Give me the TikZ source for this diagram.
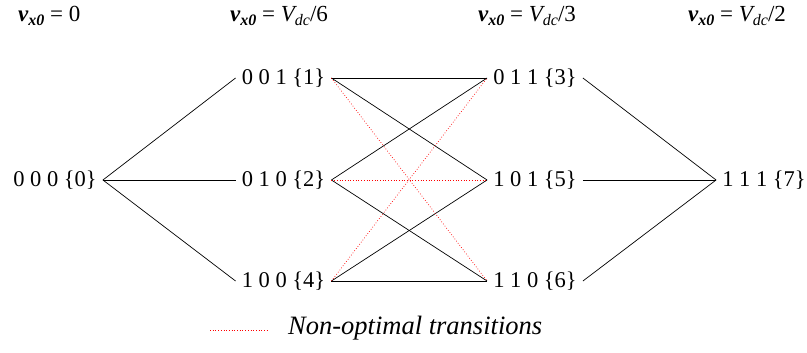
\documentclass[tikz,border=0pt]{standalone}
\usepackage{fontspec}
\setmainfont{LiberationSerif-Regular.ttf}[BoldFont=LiberationSerif-Bold.ttf, ItalicFont=LiberationSerif-Italic.ttf, BoldItalicFont=LiberationSerif-BoldItalic.ttf]
\begin{document}
\begin{tikzpicture}[x=1pt,y=-1pt,
  st/.style={font=\fontsize{22.5}{24}\selectfont, inner xsep=6pt, inner ysep=2pt},
  hd/.style={font=\fontsize{23}{26}\selectfont, anchor=base west, inner sep=0pt},
  ok/.style={draw=black, line width=0.7pt},
  bad/.style={draw=red, line width=0.7pt, dotted}]
\useasboundingbox (0,0) rectangle (807,353);
\newcommand{\vx}{{\bfseries\itshape v\raisebox{-0.35ex}{\fontsize{16}{17}\selectfont x0}}}
\newcommand{\vdc}{\textit{V\raisebox{-0.35ex}{\fontsize{16}{17}\selectfont dc}}}
% headers
\node[hd] (h0) at (18,22) {\vx\ = 0};
\node[hd] (h1) at (230,22) {\vx\ = \vdc/6};
\node[hd] (h2) at (478,22) {\vx\ = \vdc/3};
\node[hd] (h3) at (688,22) {\vx\ = \vdc/2};
% states
\node[st] (s0) at (55,180) {0 0 0 \{0\}};
\node[st] (s1) at (283.5,78) {0 0 1 \{1\}};
\node[st] (s2) at (283.5,180) {0 1 0 \{2\}};
\node[st] (s4) at (283.5,281) {1 0 0 \{4\}};
\node[st] (s3) at (535,78) {0 1 1 \{3\}};
\node[st] (s5) at (535,180) {1 0 1 \{5\}};
\node[st] (s6) at (535,281) {1 1 0 \{6\}};
\node[st] (s7) at (764,180) {1 1 1 \{7\}};
% optimal
\draw[ok] (s0.east) -- (s1.west);
\draw[ok] (s0.east) -- (s2.west);
\draw[ok] (s0.east) -- (s4.west);
\draw[ok] (s1.east) -- (s3.west);
\draw[ok] (s1.east) -- (s5.west);
\draw[ok] (s2.east) -- (s3.west);
\draw[ok] (s2.east) -- (s6.west);
\draw[ok] (s4.east) -- (s5.west);
\draw[ok] (s4.east) -- (s6.west);
\draw[ok] (s3.east) -- (s7.west);
\draw[ok] (s5.east) -- (s7.west);
\draw[ok] (s6.east) -- (s7.west);
% non-optimal
\draw[bad] (s1.east) -- (s6.west);
\draw[bad] (s2.east) -- (s5.west);
\draw[bad] (s4.east) -- (s3.west);
% legend
\coordinate (la) at (210,330);
\node[font=\fontsize{26.5}{28}\selectfont\itshape, anchor=west, inner sep=0pt] (lt) at (288,328) {Non-optimal transitions};
\coordinate (lb) at (268,330);
\draw[bad] (la) -- (lb);
\end{tikzpicture}
\end{document}
